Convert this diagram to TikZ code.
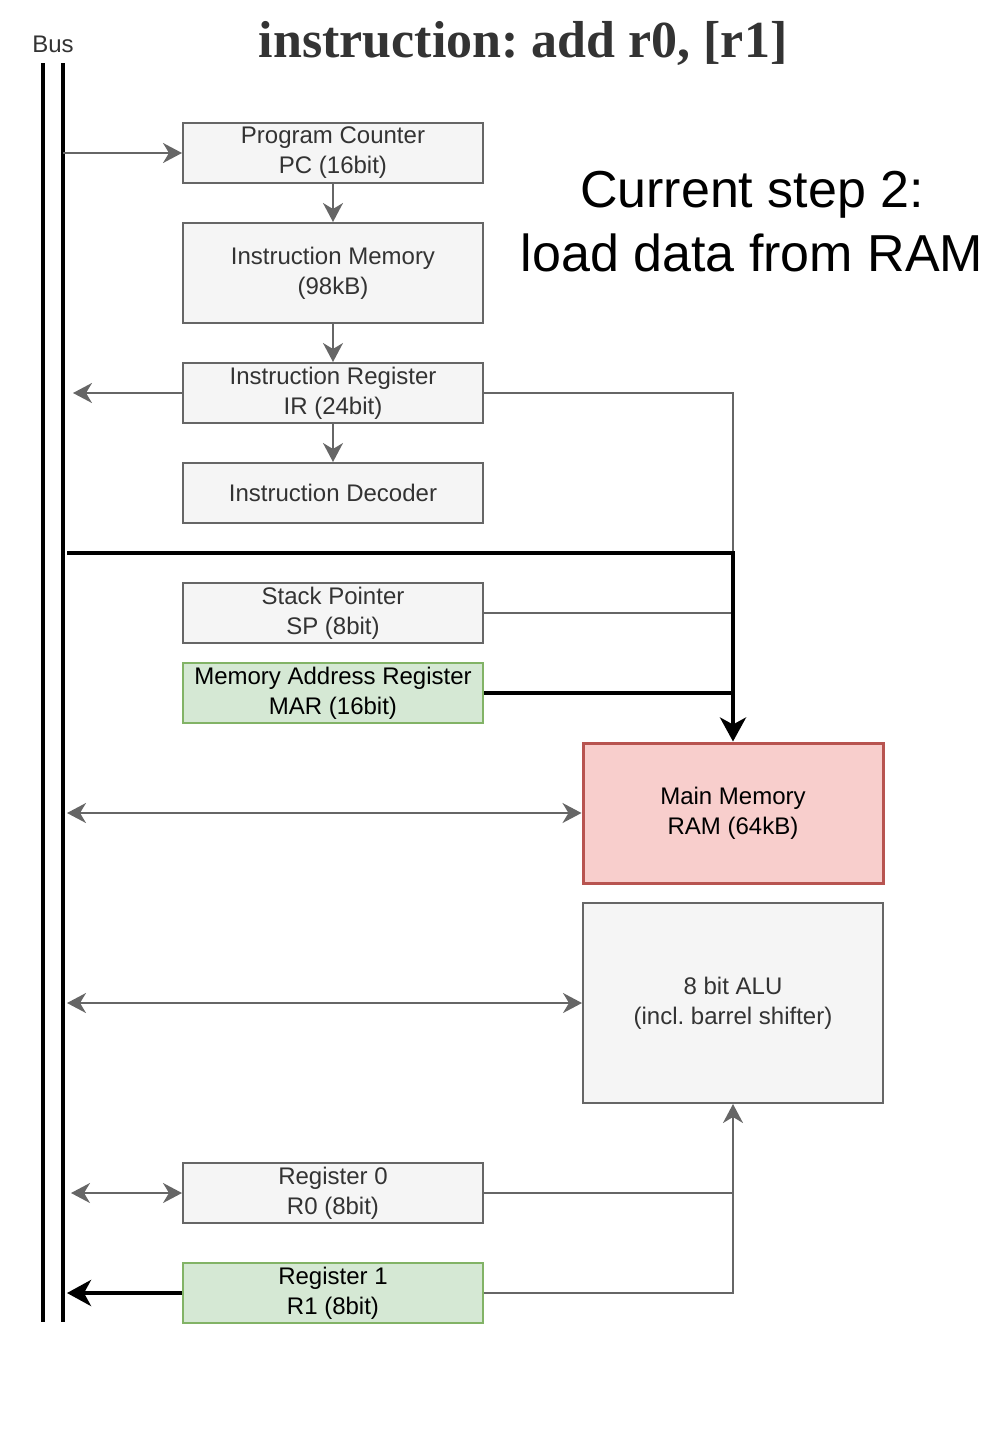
\documentclass[tikz,border=0pt]{standalone}
\usepackage{fontspec}
\setmainfont{Liberation Sans}
\newfontfamily\titlefont{Liberation Serif}
\usetikzlibrary{arrows.meta, positioning, calc}
\frenchspacing

\definecolor{boxfill}{HTML}{F5F5F5}
\definecolor{boxline}{HTML}{666666}
\definecolor{boxtext}{HTML}{333333}
\definecolor{grnfill}{HTML}{D5E8D4}
\definecolor{grnline}{HTML}{82B366}
\definecolor{redfill}{HTML}{F8CECC}
\definecolor{redline}{HTML}{B85450}

\tikzset{
  blk/.style={draw=boxline, fill=boxfill, text=boxtext, line width=1pt,
    minimum width=150pt, minimum height=30pt, inner sep=0pt, align=center,
    font=\fontsize{12}{15}\selectfont},
  grn/.style={blk, draw=grnline, fill=grnfill, text=black},
  conn/.style={draw=boxline, line width=1pt},
  garrow/.style={conn, -{Stealth[length=9.5pt, width=10pt, inset=3pt]}},
  gboth/.style={conn, {Stealth[length=9.5pt, width=10pt, inset=3pt]}-{Stealth[length=9.5pt, width=10pt, inset=3pt]}},
  bline/.style={draw=black, line width=2pt},
  barrow/.style={bline, -{Stealth[length=12pt, width=13pt, inset=3.5pt]}},
  busline/.style={draw=black, line width=2pt}
}

\begin{document}
\begin{tikzpicture}[x=0.5pt, y=-0.5pt]
  \useasboundingbox (0,0) rectangle (1006,1446);

  % Headings
  \node[font=\titlefont\bfseries\fontsize{26}{31}\selectfont, text=boxtext] (title) at (523,43) {instruction: add r0, [r1]};
  \node[font=\fontsize{26}{32}\selectfont, align=center] (step) at (752,222) {Current step 2:\\load data from RAM};
  \node[font=\fontsize{12}{14}\selectfont, text=boxtext] (buslbl) at (53,44) {Bus};

  % Bus
  \draw[busline] (43,63) -- (43,1322);
  \draw[busline] (63,63) -- (63,1322);
  \coordinate (busin) at (63,0);
  \coordinate (busout) at (67,0);

  % Control path
  \node[blk] (pc) at (333,153) {Program Counter\\PC (16bit)};
  \node[blk, minimum height=50pt] (imem) at (333,273) {Instruction Memory\\(98kB)};
  \node[blk] (ir) at (333,393) {Instruction Register\\IR (24bit)};
  \node[blk] (dec) at (333,493) {Instruction Decoder};
  \node[blk] (sp) at (333,613) {Stack Pointer\\SP (8bit)};
  \node[grn] (mar) at (333,693) {Memory Address Register\\MAR (16bit)};

  % Memory and ALU
  \node[blk, draw=redline, fill=redfill, text=black, line width=1.5pt,
    minimum height=70pt] (ram) at (733,813) {Main Memory\\RAM (64kB)};
  \node[blk, minimum height=100pt] (alu) at (733,1003) {8 bit ALU\\(incl. barrel shifter)};

  % Registers
  \node[blk] (r0) at (333,1193) {Register 0\\R0 (8bit)};
  \node[grn] (r1) at (333,1293) {Register 1\\R1 (8bit)};

  \coordinate (hub) at (ram.north |- 0,553);

  % Connectors
  \draw[garrow] (pc.west -| busin) -- (pc.west);
  \draw[garrow] (pc.south) -- (imem.north);
  \draw[garrow] (imem.south) -- (ir.north);
  \draw[garrow] (ir.south) -- (dec.north);
  \draw[garrow] (ir.west) -- ([xshift=3] ir.west -| busout);
  \draw[conn] (ir.east) -| (hub);
  \draw[conn] (sp.east) -- (sp.east -| ram.north);
  \draw[barrow] (busout |- hub) -- (hub) -- (ram.north);
  \draw[bline] (mar.east) -- (mar.east -| ram.north);
  \draw[gboth] (ram.west -| busout) -- (ram.west);
  \draw[gboth] (alu.west -| busout) -- (alu.west);
  \draw[gboth] ([xshift=2] r0.west -| busout) -- (r0.west);
  \draw[conn] (r0.east) -- (r0.east -| alu.south);
  \draw[garrow] (r1.east) -| (alu.south);
  \draw[barrow] (r1.west) -- (r1.west -| busout);
\end{tikzpicture}
\end{document}
